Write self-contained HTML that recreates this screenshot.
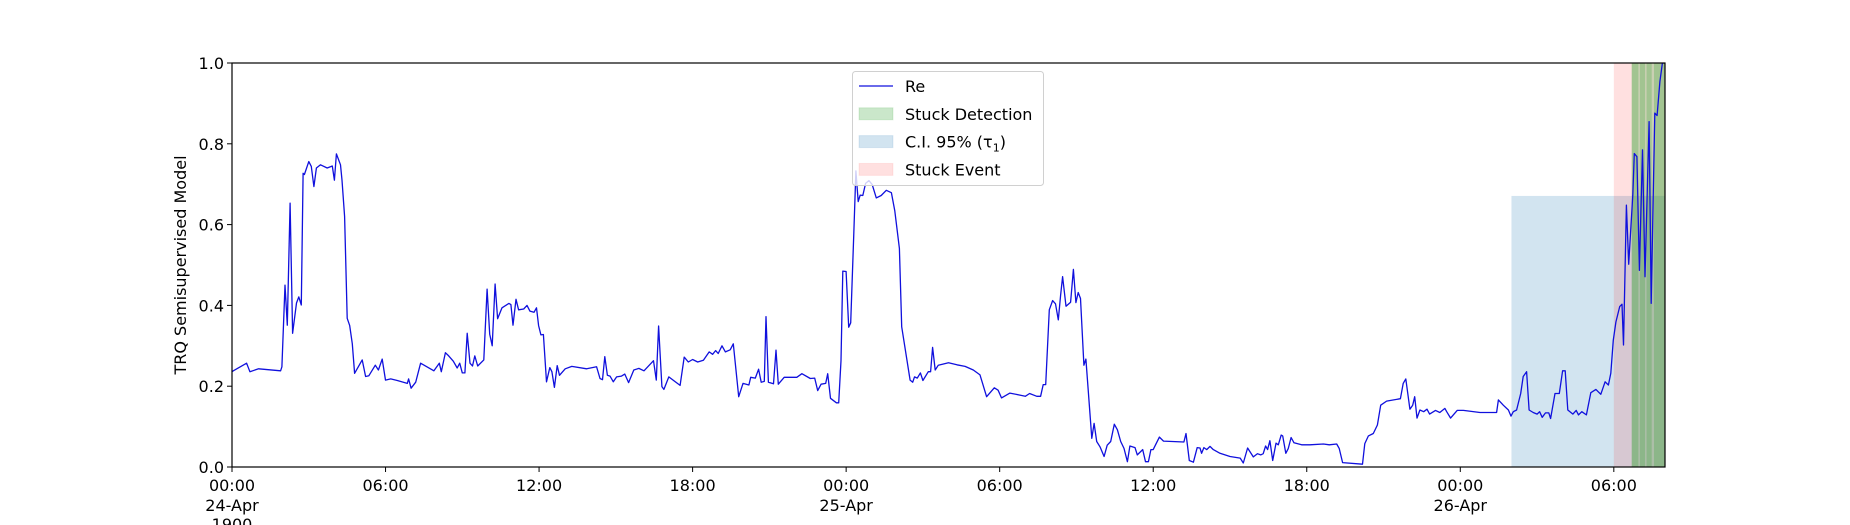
<!DOCTYPE html>
<html><head><meta charset="utf-8">
<style>
html,body{margin:0;padding:0;background:#fff;}
svg{display:block;font-family:"DejaVu Sans","Liberation Sans",sans-serif;}
</style></head>
<body>
<svg id="chart" width="1850" height="525" viewBox="0 0 1850 525" xmlns="http://www.w3.org/2000/svg">
<g id="spans"></g>
<g id="line"></g>
<g id="axes"></g>
<g id="legend"></g>
</svg>
<script>
// hours since 24-Apr 00:00
const times = [0,0.05,0.57,0.7,1.04,1.9,1.95,2.07,2.16,2.27,2.37,2.52,2.61,2.71,2.78,2.83,3.0,3.1,3.2,3.3,3.46,3.72,3.92,4.0,4.08,4.24,4.3,4.4,4.5,4.6,4.7,4.79,5.09,5.22,5.35,5.6,5.72,5.87,6.0,6.2,6.46,6.85,6.9,7.0,7.18,7.37,7.89,8.1,8.18,8.34,8.47,8.65,8.8,8.9,9.0,9.1,9.19,9.3,9.4,9.49,9.6,9.84,9.97,10.07,10.17,10.28,10.38,10.55,10.82,10.9,10.98,11.1,11.2,11.4,11.53,11.64,11.8,11.9,11.98,12.07,12.17,12.29,12.42,12.5,12.6,12.71,12.8,13.02,13.28,13.86,14.25,14.38,14.48,14.57,14.67,14.77,14.9,15.03,15.22,15.35,15.5,15.7,15.9,16.1,16.47,16.58,16.67,16.8,16.88,17.07,17.51,17.67,17.83,18.0,18.2,18.42,18.65,18.78,18.9,19.0,19.15,19.28,19.47,19.59,19.8,19.97,20.2,20.27,20.45,20.58,20.68,20.8,20.87,20.96,21.16,21.26,21.35,21.58,22.07,22.27,22.6,22.77,22.89,23.02,23.2,23.28,23.39,23.62,23.71,23.8,23.87,24.0,24.1,24.18,24.3,24.38,24.47,24.55,24.65,24.76,24.89,25.02,25.18,25.37,25.57,25.77,25.9,26.08,26.17,26.5,26.6,26.67,26.78,26.9,27.0,27.21,27.3,27.38,27.48,27.6,28.0,28.33,28.65,28.97,29.23,29.49,29.79,29.94,30.07,30.4,30.79,31.0,31.17,31.45,31.6,31.7,31.8,31.94,32.07,32.18,32.29,32.38,32.46,32.59,32.77,32.88,32.98,33.07,33.16,33.29,33.37,33.6,33.69,33.79,33.92,34.08,34.2,34.34,34.48,34.6,34.73,34.86,34.99,35.09,35.29,35.38,35.59,35.7,35.81,35.91,36.0,36.24,36.4,37.2,37.28,37.41,37.57,37.72,37.83,37.89,37.98,38.09,38.22,38.35,38.61,39.0,39.4,39.52,39.69,39.91,40.07,40.2,40.3,40.39,40.47,40.56,40.67,40.8,40.89,41.0,41.06,41.18,41.28,41.39,41.5,41.8,42.12,42.65,42.88,43.17,43.27,43.4,44.18,44.27,44.41,44.6,44.76,44.89,45.12,45.66,45.77,45.87,46.03,46.14,46.22,46.31,46.42,46.57,46.7,46.8,47.03,47.2,47.4,47.47,47.62,47.78,47.88,48.12,48.77,49.42,49.49,49.68,49.88,49.98,50.07,50.2,50.36,50.46,50.59,50.69,50.85,51.0,51.1,51.2,51.33,51.46,51.53,51.7,51.87,52.0,52.1,52.2,52.4,52.53,52.62,52.75,52.93,53.1,53.3,53.49,53.66,53.79,53.88,53.98,54.08,54.23,54.32,54.38,54.49,54.58,54.74,54.8,54.9,55.0,55.12,55.22,55.38,55.46,55.6,55.69,55.8,55.9,56.0];
const values = [0.236,0.238,0.257,0.236,0.243,0.238,0.248,0.45,0.351,0.653,0.331,0.406,0.421,0.401,0.727,0.724,0.756,0.744,0.694,0.74,0.748,0.74,0.745,0.71,0.775,0.748,0.71,0.62,0.368,0.35,0.305,0.232,0.265,0.224,0.226,0.252,0.24,0.267,0.215,0.218,0.214,0.207,0.218,0.195,0.21,0.257,0.238,0.257,0.236,0.283,0.275,0.262,0.245,0.257,0.233,0.233,0.331,0.257,0.25,0.275,0.25,0.265,0.44,0.329,0.3,0.453,0.367,0.394,0.405,0.402,0.351,0.415,0.389,0.391,0.4,0.386,0.383,0.394,0.35,0.327,0.328,0.211,0.246,0.236,0.197,0.251,0.227,0.243,0.249,0.243,0.248,0.219,0.216,0.273,0.227,0.225,0.211,0.223,0.225,0.23,0.209,0.24,0.244,0.238,0.263,0.215,0.349,0.199,0.192,0.223,0.202,0.272,0.26,0.266,0.26,0.264,0.285,0.279,0.288,0.281,0.3,0.285,0.29,0.305,0.174,0.207,0.203,0.222,0.22,0.242,0.21,0.212,0.372,0.21,0.206,0.289,0.205,0.222,0.222,0.231,0.219,0.22,0.189,0.205,0.207,0.231,0.17,0.159,0.159,0.263,0.485,0.484,0.346,0.357,0.578,0.733,0.657,0.673,0.672,0.702,0.709,0.699,0.666,0.672,0.685,0.679,0.634,0.541,0.347,0.215,0.21,0.223,0.22,0.233,0.214,0.236,0.236,0.296,0.24,0.252,0.258,0.253,0.249,0.24,0.228,0.174,0.196,0.19,0.171,0.183,0.178,0.175,0.182,0.175,0.175,0.204,0.204,0.389,0.412,0.404,0.364,0.425,0.471,0.398,0.408,0.489,0.407,0.432,0.417,0.252,0.267,0.071,0.108,0.063,0.05,0.026,0.054,0.063,0.106,0.092,0.063,0.046,0.013,0.052,0.048,0.03,0.043,0.013,0.013,0.043,0.043,0.074,0.064,0.062,0.083,0.016,0.012,0.048,0.047,0.034,0.048,0.043,0.051,0.043,0.034,0.026,0.022,0.01,0.047,0.025,0.033,0.03,0.033,0.052,0.043,0.065,0.016,0.059,0.055,0.079,0.077,0.034,0.046,0.073,0.06,0.055,0.055,0.057,0.055,0.057,0.046,0.011,0.007,0.058,0.077,0.083,0.104,0.153,0.163,0.169,0.207,0.218,0.143,0.153,0.174,0.121,0.141,0.137,0.143,0.131,0.14,0.135,0.145,0.137,0.121,0.133,0.14,0.14,0.135,0.135,0.166,0.153,0.141,0.126,0.137,0.141,0.182,0.224,0.236,0.141,0.135,0.131,0.137,0.123,0.134,0.134,0.12,0.182,0.182,0.238,0.238,0.141,0.131,0.14,0.129,0.137,0.129,0.184,0.192,0.18,0.211,0.203,0.232,0.314,0.359,0.397,0.403,0.302,0.648,0.502,0.673,0.776,0.768,0.487,0.785,0.471,0.855,0.405,0.876,0.87,0.954,1.0,1.0];
const ciSpan = [50.0, 56.0];
const ciTop = 0.671;
const eventSpan = [54.0, 56.0];
const detectStarts = [54.70, 54.70, 55.02, 55.28, 55.57];
const detectEnds = [56.0, 54.96, 55.22, 55.48, 56.0];
const yTicks = [0.0,0.2,0.4,0.6,0.8,1.0];
const xTickHours = [0,6,12,18,24,30,36,42,48,54];
const xTickLabels = ["00:00","06:00","12:00","18:00","00:00","06:00","12:00","18:00","00:00","06:00"];
const xTickDates = ["24-Apr\n1900","","","","25-Apr","","","","26-Apr",""];

const NS="http://www.w3.org/2000/svg";
const L=232,R=1665,T=63,B=467,H0=0,H1=56;
const X=h=>L+(h-H0)/(H1-H0)*(R-L);
const Y=v=>B-v*(B-T);
function mk(tag,attrs,parent){const e=document.createElementNS(NS,tag);for(const k in attrs)e.setAttribute(k,attrs[k]);parent.appendChild(e);return e;}

const spans=document.getElementById('spans');
let r=mk('rect',{x:X(ciSpan[0]),y:Y(ciTop),width:X(ciSpan[1])-X(ciSpan[0]),height:Y(0)-Y(ciTop),fill:'#1f77b4','fill-opacity':0.2},spans);


r=mk('rect',{x:X(eventSpan[0]),y:T,width:X(eventSpan[1])-X(eventSpan[0]),height:B-T,fill:'#ff0000','fill-opacity':0.12},spans);


for(let i=0;i<detectStarts.length;i++){
  r=mk('rect',{x:X(detectStarts[i]),y:T,width:X(detectEnds[i])-X(detectStarts[i]),height:B-T,fill:'#2ca02c','fill-opacity':0.25},spans);
  
  
}

const lineG=document.getElementById('line');
const cp=mk('clipPath',{id:'plotclip'},lineG);mk('rect',{x:L,y:T,width:R-L,height:B-T},cp);
const pts=times.map((t,i)=>X(t).toFixed(1)+','+Y(values[i]).toFixed(1)).join(' ');
const pl=mk('polyline',{points:pts,fill:'none',stroke:'#1010dd','stroke-width':1.3,'stroke-linejoin':'round','clip-path':'url(#plotclip)'},lineG);



const ax=document.getElementById('axes');
const frame=mk('rect',{x:L,y:T,width:R-L,height:B-T,fill:'none',stroke:'#000','stroke-width':1.2},ax);


yTicks.forEach(v=>{
  mk('line',{x1:L-5,x2:L,y1:Y(v),y2:Y(v),stroke:'#000','stroke-width':1},ax);
  const t=mk('text',{x:L-8,y:Y(v)+6,'text-anchor':'end','font-size':16,fill:'#000'},ax);
  t.textContent=v.toFixed(1);
  
  
});
xTickHours.forEach((h,i)=>{
  mk('line',{x1:X(h),x2:X(h),y1:B,y2:B+5,stroke:'#000','stroke-width':1},ax);
  const t=mk('text',{x:X(h),y:B+24,'text-anchor':'middle','font-size':16,fill:'#000'},ax);
  t.textContent=xTickLabels[i];
  
  
  xTickDates[i].split('\n').forEach((s,j)=>{
    if(!s)return;
    const d=mk('text',{x:X(h),y:B+44+j*19,'text-anchor':'middle','font-size':16,fill:'#000'},ax);
    d.textContent=s;
    
    
  });
});
const yl=mk('text',{x:0,y:0,transform:'translate(186,'+((T+B)/2)+') rotate(-90)','text-anchor':'middle','font-size':16,fill:'#000'},ax);
yl.textContent='TRQ Semisupervised Model';



const lg=document.getElementById('legend');
const box=mk('rect',{x:852.5,y:71.5,width:191,height:114,rx:3,fill:'#fff','fill-opacity':0.8,stroke:'#d0d0d0','stroke-width':1},lg);


const items=[['line','#1010dd','Re'],['rect','#2ca02c','Stuck Detection'],['rect','#1f77b4','C.I. 95% (τ₁)'],['rect','#ff0000','Stuck Event']];
const alphas=[1,0.25,0.2,0.12];
items.forEach((it,i)=>{
  const cy=86+i*27.8;
  if(it[0]==='line'){mk('line',{x1:859,x2:893,y1:cy,y2:cy,stroke:it[1],'stroke-width':1.3},lg);}
  else{mk('rect',{x:859,y:cy-6,width:34,height:12,fill:it[1],'fill-opacity':alphas[i],stroke:it[1],'stroke-opacity':alphas[i]*0.6},lg);}
  const t=mk('text',{x:905,y:cy+6,'font-size':16,fill:'#000'},lg);
  if(i===2){t.textContent='C.I. 95% (';const ts=mk('tspan',{},t);ts.textContent='τ';const sb=mk('tspan',{'font-size':11,dy:4},t);sb.textContent='1';const cl=mk('tspan',{dy:-4},t);cl.textContent=')';}
  else t.textContent=it[2];
  
  
});
</script>
</body></html>
